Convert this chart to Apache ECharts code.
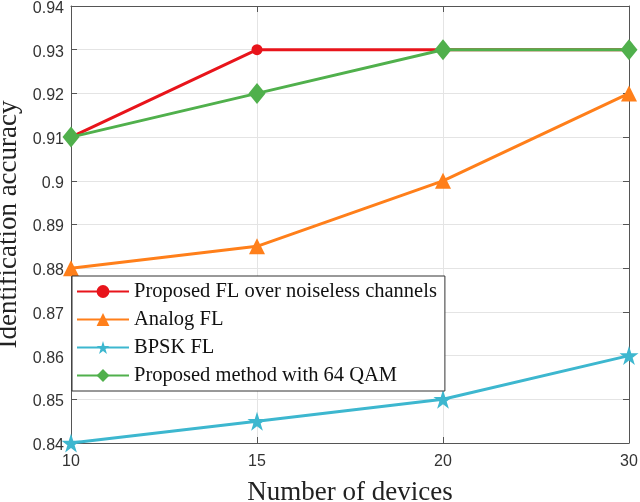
<!DOCTYPE html>
<html><head><meta charset="utf-8">
<script src="https://cdn.jsdelivr.net/npm/echarts@6/dist/echarts.min.js"></script>
<style>html,body{margin:0;padding:0;background:#fff}#c{width:640px;height:502px}</style>
</head><body><div id="c"></div>
<script>
const categories = ['10', '15', '20', '30'];
const noiseless = [0.91, 0.93, 0.93, 0.93];
const analog = [0.88, 0.885, 0.90, 0.92];
const bpsk = [0.84, 0.845, 0.85, 0.86];
const qam64 = [0.91, 0.92, 0.93, 0.93];
const seriesNames = ['Proposed FL over noiseless channels', 'Analog FL', 'BPSK FL', 'Proposed method with 64 QAM'];

const chart = echarts.init(document.getElementById('c'));
const fmt = v => '{a|' + parseFloat(v.toFixed(2)).toString() + '}';
const axisCommonX = {
  type: 'category', data: categories, boundaryGap: false,
  axisLine: { show: true, lineStyle: { color: '#555', width: 1 } },
  axisTick: { show: true, inside: true, length: 6, lineStyle: { color: '#555' }, alignWithLabel: true },
  splitLine: { show: false }
};
const axisCommonY = {
  type: 'value', min: 0.84, max: 0.94, interval: 0.01,
  axisLine: { show: true, lineStyle: { color: '#555', width: 1 } },
  axisTick: { show: true, inside: true, length: 6, lineStyle: { color: '#555' } }
};
chart.setOption({
  animation: false,
  grid: { left: 71, right: 11, top: 6, bottom: 59, containLabel: false, outerBoundsMode: 'none' },
  legend: {
    orient: 'vertical', left: 72, top: 276,
    data: seriesNames,
    backgroundColor: '#fff', borderColor: '#333', borderWidth: 1,
    padding: [5, 8, 5, 4], itemGap: 7,
    itemWidth: 52, itemHeight: 16,
    textStyle: { fontFamily: 'Liberation Serif', fontSize: 20.5, color: '#111' }
  },
  xAxis: [
    Object.assign({}, axisCommonX, {
      position: 'bottom',
      name: 'Number of devices', nameLocation: 'middle', nameGap: 36,
      nameTextStyle: { fontFamily: 'Liberation Serif', fontSize: 27, color: '#222' },
      axisLabel: { fontFamily: 'Liberation Sans', fontSize: 16, color: '#333', margin: 11 },
      splitLine: { show: true, lineStyle: { color: '#e4e4e4', width: 1 } }
    }),
    Object.assign({}, axisCommonX, { position: 'top', axisLabel: { show: false } })
  ],
  yAxis: [
    Object.assign({}, axisCommonY, {
      position: 'left',
      name: 'Identification accuracy', nameLocation: 'middle', nameGap: 40,
      nameTextStyle: { fontFamily: 'Liberation Serif', fontSize: 27, color: '#222' },
      axisLabel: { margin: 7, formatter: fmt,
        rich: { a: { fontFamily: 'Liberation Sans', fontSize: 16, color: '#333', padding: [5, 0, 0, 0] } } },
      splitLine: { show: true, lineStyle: { color: '#e4e4e4', width: 1 } }
    }),
    Object.assign({}, axisCommonY, { position: 'right', axisLabel: { show: false }, splitLine: { show: false } })
  ],
  series: [
    { name: seriesNames[0], type: 'line', data: noiseless, color: '#e8141b',
      symbol: 'circle', symbolSize: 11, lineStyle: { width: 3 }, itemStyle: { color: '#e8141b' } },
    { name: seriesNames[1], type: 'line', data: analog, color: '#ff7f1a',
      symbol: 'triangle', symbolSize: 16, lineStyle: { width: 3 }, itemStyle: { color: '#ff7f1a' } },
    { name: seriesNames[2], type: 'line', data: bpsk, color: '#3db7cf',
      symbol: 'path://M50,0 L61.8,36.2 L100,36.2 L69.1,58.8 L80.9,95.1 L50,72.7 L19.1,95.1 L30.9,58.8 L0,36.2 L38.2,36.2 Z',
      symbolSize: 19, lineStyle: { width: 3 }, itemStyle: { color: '#3db7cf' } },
    { name: seriesNames[3], type: 'line', data: qam64, color: '#50b04c',
      symbol: 'diamond', symbolSize: [17, 21], lineStyle: { width: 3 }, itemStyle: { color: '#50b04c' } }
  ]
});
</script></body></html>
